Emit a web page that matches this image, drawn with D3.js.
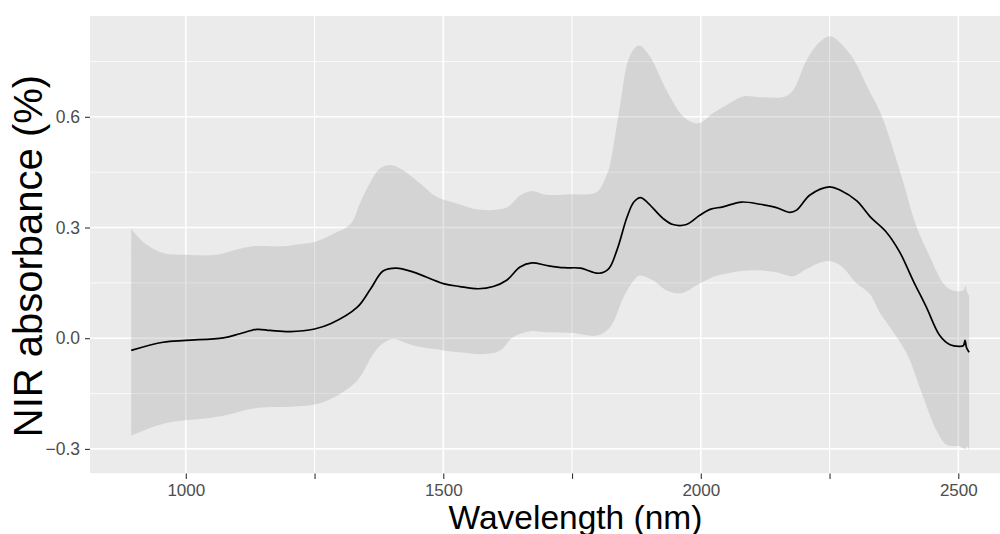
<!DOCTYPE html>
<html>
<head>
<meta charset="utf-8">
<script src="https://cdn.jsdelivr.net/npm/d3@7"></script>
<style>
  html, body { margin: 0; padding: 0; background: #fff; }
  svg { display: block; font-family: "Liberation Sans", Arial, sans-serif; }
</style>
</head>
<body>
<svg id="chart" width="1000" height="534"></svg>
<script>
// ---- data ----
const meanWl = [894, 956, 1000, 1073, 1105, 1138, 1164, 1203, 1250, 1281, 1333, 1359, 1383, 1409, 1442, 1500, 1532, 1568, 1597, 1623, 1649, 1672, 1701, 1734, 1766, 1802, 1821, 1837, 1857, 1870, 1883, 1897, 1927, 1946, 1972, 1998, 2018, 2043, 2079, 2115, 2147, 2173, 2186, 2212, 2250, 2271, 2303, 2329, 2360, 2386, 2412, 2438, 2464, 2484, 2503, 2510, 2513, 2516, 2521];
const meanVal = [-0.033, -0.011, -0.006, 0.001, 0.012, 0.024, 0.021, 0.018, 0.025, 0.039, 0.084, 0.134, 0.182, 0.190, 0.179, 0.148, 0.140, 0.134, 0.140, 0.157, 0.193, 0.204, 0.197, 0.191, 0.190, 0.176, 0.188, 0.238, 0.329, 0.369, 0.381, 0.367, 0.324, 0.308, 0.308, 0.333, 0.349, 0.356, 0.369, 0.363, 0.354, 0.341, 0.347, 0.388, 0.410, 0.401, 0.372, 0.329, 0.288, 0.234, 0.157, 0.084, 0.007, -0.018, -0.022, -0.020, -0.006, -0.026, -0.038];

const upperWl = [894, 917, 956, 1000, 1060, 1092, 1131, 1190, 1216, 1250, 1281, 1320, 1338, 1357, 1377, 1399, 1422, 1455, 1487, 1526, 1571, 1623, 1649, 1672, 1698, 1747, 1798, 1818, 1823, 1842, 1862, 1880, 1901, 1933, 1966, 1995, 2024, 2050, 2082, 2115, 2164, 2180, 2206, 2232, 2251, 2271, 2297, 2323, 2349, 2386, 2419, 2445, 2471, 2487, 2510, 2514, 2517, 2521];
const upperVal = [0.297, 0.261, 0.231, 0.226, 0.226, 0.238, 0.249, 0.249, 0.254, 0.261, 0.279, 0.310, 0.365, 0.419, 0.460, 0.469, 0.455, 0.419, 0.383, 0.365, 0.348, 0.354, 0.387, 0.399, 0.389, 0.390, 0.396, 0.446, 0.465, 0.619, 0.764, 0.793, 0.764, 0.673, 0.601, 0.582, 0.610, 0.632, 0.655, 0.653, 0.655, 0.673, 0.755, 0.804, 0.818, 0.800, 0.755, 0.682, 0.610, 0.456, 0.302, 0.220, 0.148, 0.130, 0.130, 0.143, 0.125, 0.116];

const lowerWl = [894, 943, 982, 1027, 1073, 1138, 1203, 1250, 1281, 1333, 1364, 1383, 1403, 1442, 1500, 1532, 1578, 1610, 1636, 1669, 1701, 1753, 1798, 1824, 1850, 1870, 1881, 1907, 1933, 1962, 1998, 2024, 2063, 2108, 2147, 2180, 2206, 2245, 2271, 2303, 2328, 2349, 2367, 2399, 2432, 2458, 2477, 2503, 2514, 2517, 2521];
const lowerVal = [-0.264, -0.237, -0.225, -0.219, -0.210, -0.189, -0.186, -0.180, -0.165, -0.115, -0.043, -0.014, -0.002, -0.020, -0.033, -0.038, -0.043, -0.033, 0.003, 0.019, 0.016, 0.014, 0.007, 0.030, 0.111, 0.157, 0.170, 0.157, 0.130, 0.122, 0.148, 0.166, 0.179, 0.184, 0.179, 0.168, 0.188, 0.209, 0.197, 0.148, 0.120, 0.066, 0.030, -0.039, -0.160, -0.251, -0.289, -0.294, -0.300, -0.292, -0.305];

const xTicks = [1000, 1250, 1500, 1750, 2000, 2250, 2500];
const xTickLabels = ["1000", "", "1500", "", "2000", "", "2500"];
const yTicks = [-0.3, 0.0, 0.3, 0.6];
const yTickLabels = ["\u22120.3", "0.0", "0.3", "0.6"];
const yMinor = [-0.15, 0.15, 0.45, 0.75];
const xTitle = "Wavelength (nm)";
const yTitle = "NIR absorbance (%)";

// ---- layout ----
const svg = d3.select("#chart");
const panel = { left: 90, top: 16, right: 1000, bottom: 473.4 };

// x: 1000 nm -> 185.8 px, 2500 nm -> 958.3 px ; y: 0 -> 338.2 px, 0.6 -> 116.8 px
const x = d3.scaleLinear().domain([1000, 2500]).range([185.8, 958.3]);
const y = d3.scaleLinear().domain([0, 0.6]).range([338.2, 116.8]);

svg.append("defs").append("clipPath").attr("id", "clip")
  .append("rect").attr("x", panel.left).attr("y", panel.top)
  .attr("width", panel.right - panel.left).attr("height", panel.bottom - panel.top);

const g = svg.append("g").attr("clip-path", "url(#clip)");
g.append("rect").attr("x", panel.left).attr("y", panel.top)
  .attr("width", panel.right - panel.left).attr("height", panel.bottom - panel.top)
  .attr("fill", "#EBEBEB");

// grid
g.selectAll(".ymin").data(yMinor).join("line")
  .attr("x1", panel.left).attr("x2", panel.right)
  .attr("y1", d => y(d)).attr("y2", d => y(d))
  .attr("stroke", "#fff").attr("stroke-width", 0.8);
g.selectAll(".ymaj").data(yTicks).join("line")
  .attr("x1", panel.left).attr("x2", panel.right)
  .attr("y1", d => y(d)).attr("y2", d => y(d))
  .attr("stroke", "#fff").attr("stroke-width", 1.6);
g.selectAll(".xmaj").data(xTicks).join("line")
  .attr("y1", panel.top).attr("y2", panel.bottom)
  .attr("x1", d => x(d)).attr("x2", d => x(d))
  .attr("stroke", "#fff").attr("stroke-width", (d, i) => i % 2 === 0 ? 1.6 : 1.1);

// ribbon
const upperPts = upperWl.map((w, i) => [x(w), y(upperVal[i])]);
const lowerPts = lowerWl.map((w, i) => [x(w), y(lowerVal[i])]).reverse();
const lineGen = d3.line().curve(d3.curveCatmullRom.alpha(0.5));
const ribbonPath = lineGen(upperPts) + "L" + lineGen(lowerPts).slice(1) + "Z";
g.append("path").attr("d", ribbonPath)
  .attr("fill", "#999999").attr("fill-opacity", 0.28);

// mean line
const meanLine = d3.line()
  .x((d, i) => x(meanWl[i])).y(d => y(d))
  .curve(d3.curveCatmullRom.alpha(0.5));
g.append("path").datum(meanVal).attr("d", meanLine)
  .attr("fill", "none").attr("stroke", "#000").attr("stroke-width", 1.7)
  .attr("stroke-linejoin", "round");

// axes
const xAxis = d3.axisBottom(x).tickValues(xTicks)
  .tickFormat((d, i) => xTickLabels[i]).tickSize(5.5).tickPadding(5);
const xa = svg.append("g").attr("transform", `translate(0,${panel.bottom})`).call(xAxis);
xa.select(".domain").remove();
xa.selectAll(".tick line").attr("stroke", "#333").attr("stroke-width", 1.1);
xa.selectAll(".tick text").attr("fill", "#4D4D4D").style("font-size", "17px")
  .style("font-family", "'Liberation Sans', Arial, sans-serif");

const yAxis = d3.axisLeft(y).tickValues(yTicks)
  .tickFormat((d, i) => yTickLabels[i]).tickSize(5).tickPadding(5);
const ya = svg.append("g").attr("transform", `translate(${panel.left},0)`).call(yAxis);
ya.select(".domain").remove();
ya.selectAll(".tick line").attr("stroke", "#333").attr("stroke-width", 1.1);
ya.selectAll(".tick text").attr("fill", "#4D4D4D").style("font-size", "17.5px")
  .style("font-family", "'Liberation Sans', Arial, sans-serif");

// titles
svg.append("text").attr("x", 575.5).attr("y", 528.5)
  .attr("text-anchor", "middle").attr("fill", "#000")
  .style("font-size", "33.5px").text(xTitle);
svg.append("text").attr("transform", `translate(42,256) rotate(-90)`)
  .attr("text-anchor", "middle").attr("fill", "#000")
  .style("font-size", "40px").text(yTitle);
</script>
</body>
</html>
